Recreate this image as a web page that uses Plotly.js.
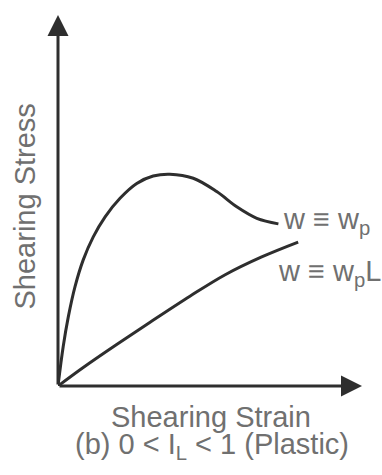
<!DOCTYPE html>
<html>
<head>
<meta charset="utf-8">
<script src="https://cdn.plot.ly/plotly-3.0.1.min.js"></script>
<style>html,body{margin:0;padding:0;background:#fff;}#chart{width:382px;height:475px;}</style>
</head>
<body>
<div id="chart"></div>
<script>
// Curve w ≡ wp (peak then softening)
const strainP = [0, 0.17, 0.34, 0.56, 0.83, 1.16, 1.55, 2.04, 2.59, 3.13, 3.68, 4.45, 5.22, 5.88, 6.54, 7.25];
const stressP = [0, 1.06, 1.87, 2.68, 3.40, 4.02, 4.56, 5.06, 5.46, 5.66, 5.71, 5.60, 5.24, 4.83, 4.52, 4.37];
// Curve w ≡ wpL (nearly linear)
const strainL = [0, 0.83, 1.93, 3.03, 4.34, 5.50, 6.70, 7.90];
const stressL = [0, 0.50, 1.12, 1.72, 2.42, 3.00, 3.48, 3.88];
const labelP = 'w ≡ w<sub>p</sub>';
const labelL = 'w ≡ w<sub>p</sub>L';
const xTitle = 'Shearing Strain';
const yTitle = 'Shearing Stress';
const caption = '(b) 0 < I<sub>L</sub> < 1 (Plastic)';

const lineCol = '#2e2e2e';
const textCol = '#707070';
const fontFam = 'Liberation Sans, Arial, sans-serif';
const fs = 29;

const traces = [
  {x: strainP, y: stressP, mode: 'lines', line: {color: lineCol, width: 3, shape: 'spline', smoothing: 1}, hoverinfo: 'skip'},
  {x: strainL, y: stressL, mode: 'lines', line: {color: lineCol, width: 3, shape: 'spline', smoothing: 1}, hoverinfo: 'skip'}
];

const layout = {
  width: 382, height: 475,
  margin: {l: 58, r: 20, t: 15, b: 89},
  paper_bgcolor: '#fff', plot_bgcolor: '#fff',
  showlegend: false,
  xaxis: {range: [0, 10], showgrid: false, zeroline: false, showticklabels: false, showline: false, fixedrange: true},
  yaxis: {range: [0, 10], showgrid: false, zeroline: false, showticklabels: false, showline: false, fixedrange: true},
  font: {family: fontFam, color: textCol, size: fs},
  annotations: [
    {x: 10, y: 0, ax: 0, ay: 0, axref: 'x', ayref: 'y', xref: 'x', yref: 'y', text: '', showarrow: true,
     arrowhead: 2, arrowsize: 1.4, arrowwidth: 3, arrowcolor: lineCol},
    {x: 0, y: 10, ax: 0, ay: 0, axref: 'x', ayref: 'y', xref: 'x', yref: 'y', text: '', showarrow: true,
     arrowhead: 2, arrowsize: 1.4, arrowwidth: 3, arrowcolor: lineCol},
    {x: strainP[strainP.length-1], y: stressP[stressP.length-1], xref: 'x', yref: 'y', text: labelP, showarrow: false,
     xanchor: 'left', yanchor: 'middle', xshift: 3, yshift: 3, font: {size: fs, color: textCol}},
    {x: strainL[strainL.length-1], y: stressL[stressL.length-1], xref: 'x', yref: 'y', text: labelL, showarrow: false,
     xanchor: 'left', yanchor: 'middle', xshift: -22, yshift: -31, font: {size: fs, color: textCol}},
    {x: 0.5, y: 0, xref: 'paper', yref: 'paper', text: xTitle, showarrow: false,
     xanchor: 'center', yanchor: 'middle', xshift: 1, yshift: -31, font: {size: fs, color: textCol}},
    {x: 0.5, y: 0, xref: 'paper', yref: 'paper', text: caption, showarrow: false,
     xanchor: 'center', yanchor: 'middle', xshift: 2, yshift: -60, font: {size: fs, color: textCol}},
    {x: 0, y: 0.5, xref: 'paper', yref: 'paper', text: yTitle, showarrow: false, textangle: -90,
     xanchor: 'center', yanchor: 'middle', xshift: -34, yshift: -6, font: {size: fs, color: textCol}}
  ]
};

Plotly.newPlot('chart', traces, layout, {staticPlot: true, displayModeBar: false});
</script>
</body>
</html>
